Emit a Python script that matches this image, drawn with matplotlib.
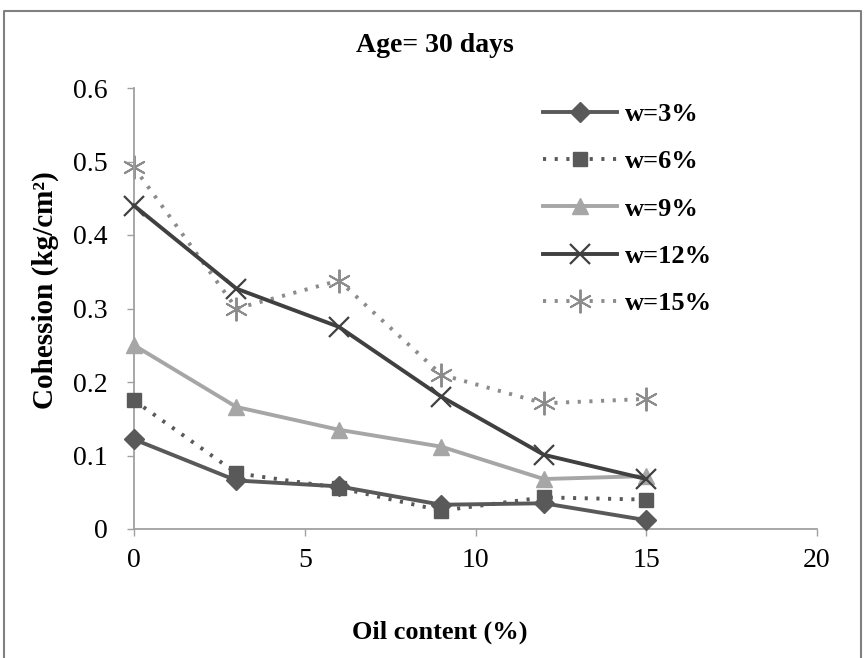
import matplotlib
matplotlib.use("Agg")
import matplotlib.pyplot as plt
from matplotlib.lines import Line2D

plt.rcParams['font.family'] = ['Liberation Serif', 'DejaVu Serif']

oil = [0, 3, 6, 9, 12, 15]
w3 = [0.122, 0.066, 0.058, 0.033, 0.035, 0.012]
w6 = [0.175, 0.076, 0.056, 0.025, 0.043, 0.040]
w9 = [0.250, 0.166, 0.135, 0.112, 0.068, 0.072]
w12 = [0.440, 0.327, 0.275, 0.180, 0.101, 0.068]
w15 = [0.492, 0.300, 0.338, 0.210, 0.171, 0.177]

labels = ['w=3%', 'w=6%', 'w=9%', 'w=12%', 'w=15%']
xticks = [0, 5, 10, 15, 20]
yticks = [0, 0.1, 0.2, 0.3, 0.4, 0.5, 0.6]

fig = plt.figure(figsize=(8.65, 6.58), dpi=100)
ax = fig.add_axes([134 / 865, 1 - 529 / 658, (817 - 134) / 865, (529 - 88) / 658])

dot = (0, (0.8, 2.2))
ax.plot(oil, w3, color='#595959', lw=2.8, marker='D', ms=10, label=labels[0], zorder=5)
ax.plot(oil, w6, color='#595959', lw=2.8, ls=dot, marker='s', ms=10, label=labels[1], zorder=4)
ax.plot(oil, w9, color='#a6a6a6', lw=2.8, marker='^', ms=12, label=labels[2], zorder=3)
ax.plot(oil, w12, color='#404040', lw=2.8, marker='x', ms=15, mew=1.6, label=labels[3], zorder=3)
ax.plot(oil, w15, color='#8c8c8c', lw=2.8, ls=dot, marker=(6, 2, 0), ms=17, mew=1.4,
        label=labels[4], zorder=2)

ax.set_xlim(0, 20)
ax.set_ylim(0, 0.6)
ax.set_xticks(xticks)
ax.set_yticks(yticks)
ax.set_xticklabels([str(t) for t in xticks])
ax.set_yticklabels(['0'] + [f'{t:.1f}' for t in yticks[1:]])
ax.tick_params(labelsize=20, color='#a0a0a0', length=5, width=1)
ax.tick_params(axis='y', pad=14)
ax.tick_params(axis='x', pad=9)
for s in ['top', 'right']:
    ax.spines[s].set_visible(False)
for s in ['left', 'bottom']:
    ax.spines[s].set_color('#a0a0a0')
    ax.spines[s].set_linewidth(1.3)
for ln in ax.lines:
    ln.set_clip_on(False)

fig.text(435 / 865, 1 - 45 / 658, 'Age= 30 days', ha='center', va='center',
         fontsize=20, fontweight='bold')
fig.text(440 / 865, 1 - 632 / 658, 'Oil content (%)', ha='center', va='center',
         fontsize=19, fontweight='bold')
fig.text(45 / 865, 1 - 290 / 658, 'Cohession (kg/cm²)', ha='center', va='center',
         rotation=90, fontsize=21, fontweight='bold')

leg = ax.legend(loc='upper left', bbox_to_anchor=(519 / 865, 1 - 79 / 658),
                bbox_transform=fig.transFigure, frameon=False,
                handlelength=2.8, handletextpad=0.3, labelspacing=0.9,
                prop={'weight': 'bold', 'size': 19})

# frame round the whole picture
fig.add_artist(Line2D([4 / 865, 4 / 865, 861 / 865, 861 / 865],
                      [0, 1 - 11 / 658, 1 - 11 / 658, 0],
                      transform=fig.transFigure, color='#808080', lw=1.5))

fig.savefig('out.png', dpi=100)
